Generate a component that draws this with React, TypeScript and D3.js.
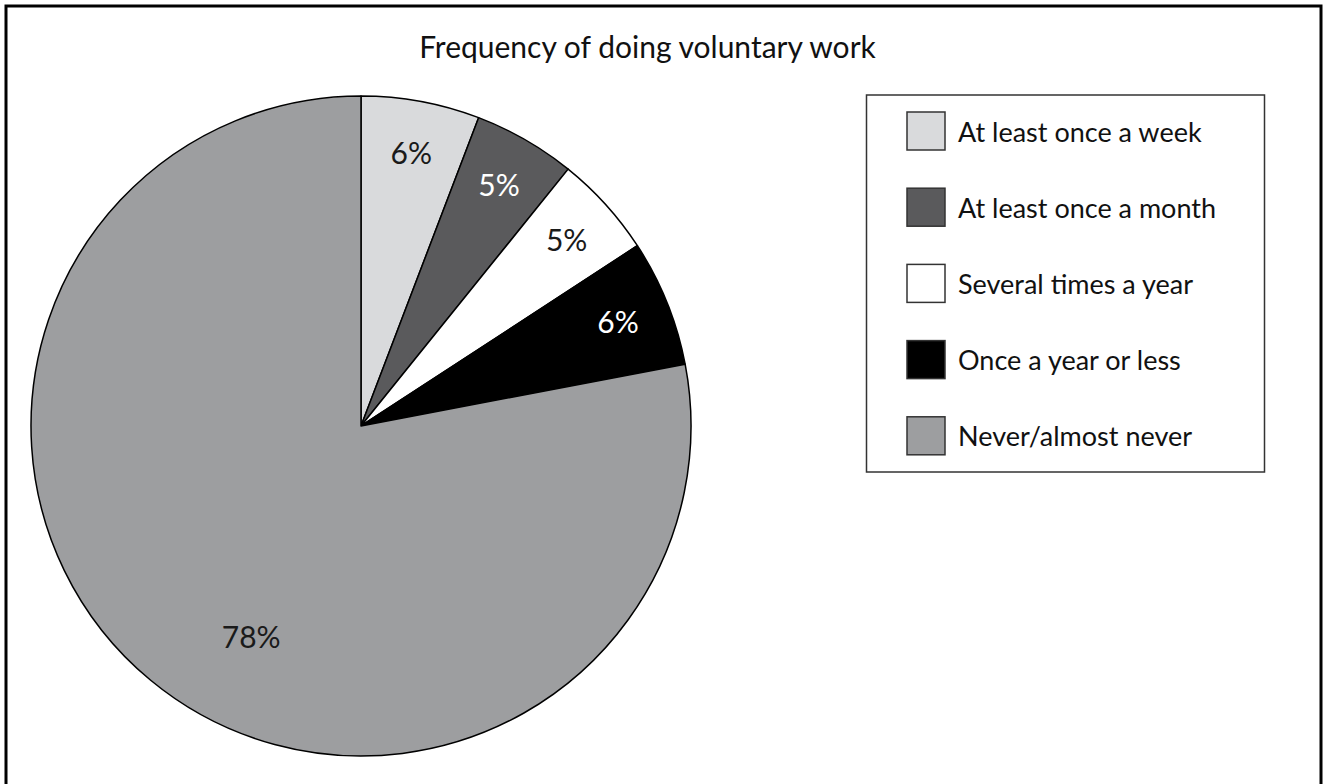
import React from "react";
import * as d3 from "d3";

const categories = [
  "At least once a week",
  "At least once a month",
  "Several times a year",
  "Once a year or less",
  "Never/almost never",
];
const values = [5.8, 5.0, 5.0, 6.2, 78.0];
const fills = ["#d9dadc", "#5a5a5c", "#ffffff", "#000000", "#9d9ea0"];
const labelColors = ["#1a1a1a", "#ffffff", "#1a1a1a", "#ffffff", "#1a1a1a"];
const title = "Frequency of doing voluntary work";

const W = 1323;
const H = 784;
const FONT = "Lato, 'Open Sans', sans-serif";

export default function App() {
  const cx = 361;
  const cy = 426;
  const R = 330;

  const pie = d3
    .pie<number>()
    .sort(null)
    .value((d) => d)
    .startAngle(0)
    .endAngle(2 * Math.PI);
  const arcs = pie(values);
  const arcGen = d3.arc<d3.PieArcDatum<number>>().innerRadius(0).outerRadius(R);

  const total = d3.sum(values);

  const legendX = 866.5;
  const legendY = 95;
  const legendW = 398;
  const legendH = 377;
  const sw = 38;
  const legendStep = 76.2;

  const y = d3
    .scaleLinear()
    .domain([0, categories.length - 1])
    .range([legendY + 17, legendY + 17 + legendStep * (categories.length - 1)]);

  return (
    <svg
      width={W}
      height={H}
      style={{ position: "absolute", left: 0, top: 0, background: "#fff" }}
    >
      <rect x={0} y={0} width={W} height={H} fill="#fff" />
      <rect
        x={6}
        y={6}
        width={W - 8}
        height={H + 20}
        fill="none"
        stroke="#000"
        strokeWidth={3}
      />
      <text
        x={647.5}
        y={58}
        textAnchor="middle"
        fontFamily={FONT}
        fontSize={30}
        fill="#111"
      >
        {title}
      </text>
      <g transform={`translate(${cx},${cy})`}>
        {arcs.map((a, i) => (
          <path
            key={i}
            d={arcGen(a) || ""}
            fill={fills[i]}
            stroke="#000"
            strokeWidth={1.5}
            strokeLinejoin="round"
          />
        ))}
        {arcs.map((a, i) => {
          const span = a.endAngle - a.startAngle;
          const big = a.value / total > 0.5;
          const ang = a.startAngle + span * (big ? 0.457 : 0.5);
          const r = big ? R * 0.72 : R * 0.84;
          const lx = Math.sin(ang) * r;
          const ly = -Math.cos(ang) * r;
          return (
            <text
              key={"l" + i}
              x={lx}
              y={ly}
              dy="0.36em"
              textAnchor="middle"
              fontFamily={FONT}
              fontSize={30}
              fill={labelColors[i]}
            >
              {Math.round(a.value) + "%"}
            </text>
          );
        })}
      </g>
      <rect
        x={legendX}
        y={legendY}
        width={legendW}
        height={legendH}
        fill="#fff"
        stroke="#333"
        strokeWidth={1.5}
      />
      {categories.map((c, i) => (
        <g key={c}>
          <rect
            x={907}
            y={y(i)}
            width={sw}
            height={sw}
            fill={fills[i]}
            stroke="#333"
            strokeWidth={1.5}
          />
          <text
            x={958}
            y={y(i) + 29.5}
            fontFamily={FONT}
            fontSize={27}
            fill="#111"
          >
            {c}
          </text>
        </g>
      ))}
    </svg>
  );
}
